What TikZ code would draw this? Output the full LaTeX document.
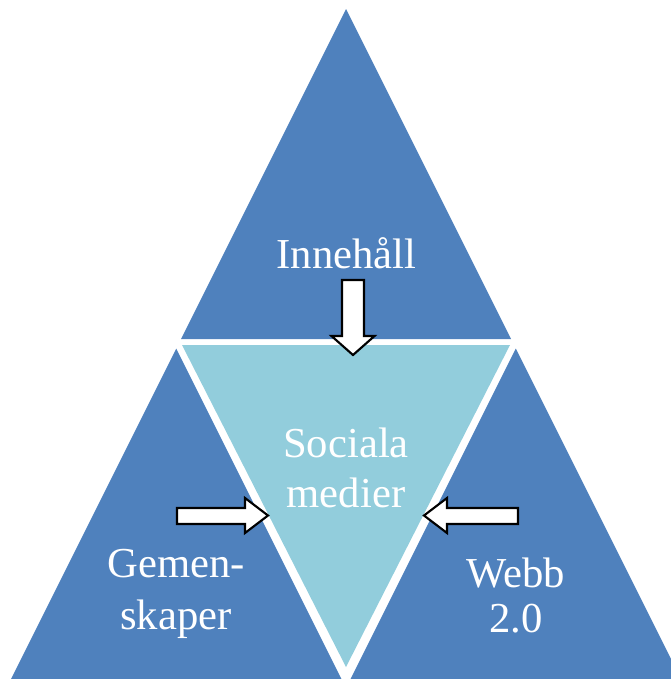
\documentclass[tikz,border=0pt]{standalone}
\usepackage{fontspec}
\setmainfont{Liberation Serif}
\definecolor{pyrblue}{HTML}{4F81BD}
\definecolor{pyraqua}{HTML}{92CDDC}
\begin{document}
\begin{tikzpicture}[x=0.75pt,y=-0.75pt,
  outerpart/.style={fill=pyrblue},
  innerpart/.style={fill=pyraqua},
  blockarrow/.style={draw=black,fill=white,line width=1.6pt,line join=miter},
  label/.style={text=white,font=\fontsize{32}{37}\selectfont,anchor=base,inner sep=0pt}]
  \useasboundingbox (0,0) rectangle (671,679);
  \clip (0,0) rectangle (671,679);
  % four triangular parts of the pyramid
  \fill[outerpart] (346,9) -- (181,339) -- (511,339) -- cycle;
  \fill[innerpart] (182,345) -- (510,345) -- (346,667) -- cycle;
  \fill[outerpart] (176.25,348.5) -- (341.5,679) -- (11,679) -- cycle;
  \fill[outerpart] (515.75,348.5) -- (681,679) -- (350.5,679) -- cycle;
  % labels
  \node[label] (top) at (346.5,268) {Innehåll};
  \node[label] (mid1) at (346,457) {Sociala};
  \node[label] (mid2) at (346,507) {medier};
  \node[label] (left1) at (176,577) {Gemen-};
  \node[label] (left2) at (176,629) {skaper};
  \node[label] (right1) at (516,587) {Webb};
  \node[label] (right2) at (516,632) {2.0};
  % block arrows pointing into the centre
  \draw[blockarrow] (342,280) -- (364,280) -- (364,336) -- (374.5,336) -- (353,355)
    -- (331.5,336) -- (342,336) -- cycle;
  \draw[blockarrow] (177,508) -- (245,508) -- (245,498) -- (268,515.5) -- (245,533)
    -- (245,524) -- (177,524) -- cycle;
  \draw[blockarrow] (518,508) -- (447,508) -- (447,498) -- (424,515.5) -- (447,533)
    -- (447,524) -- (518,524) -- cycle;
\end{tikzpicture}
\end{document}
